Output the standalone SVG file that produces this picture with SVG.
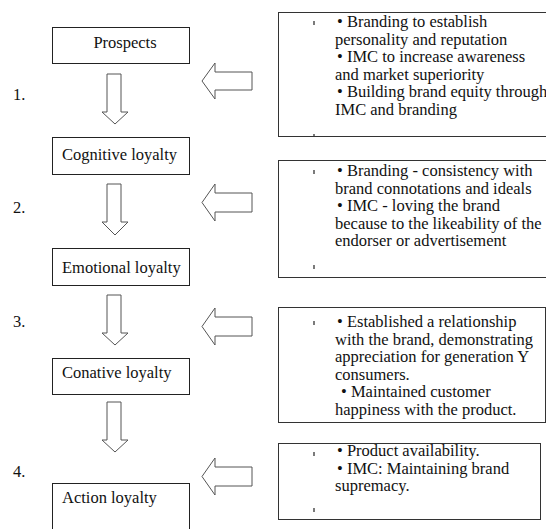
<svg xmlns="http://www.w3.org/2000/svg" width="546" height="529" viewBox="0 0 546 529">
<style>
text{font-family:"Liberation Serif","Times New Roman",serif;font-size:16.5px;fill:#111}
.box{fill:#fff;stroke:#222;stroke-width:1}
.rbox{fill:#fff;stroke:#333;stroke-width:1}
.arr{fill:#fff;stroke:#555;stroke-width:1;stroke-linejoin:miter}
.tick{stroke:#333;stroke-width:1.3}
</style>
<rect width="546" height="529" fill="#fff"/>
<g id="connectors">
<polygon class="arr" points="107,74 121,74 121,112 128,112 115,124 102,112 107,112"/>
<polygon class="arr" points="107,184 121,184 121,222 128,222 115,235 102,222 107,222"/>
<polygon class="arr" points="107,295 121,295 121,333 128,333 115,345 102,333 107,333"/>
<polygon class="arr" points="107,402 121,402 121,440 128,440 115,452 102,440 107,440"/>
<polygon class="arr" points="252,72 215,72 215,63 202,81 215,99 215,90 252,90"/>
<polygon class="arr" points="252,193 215,193 215,184 202,202.5 215,221 215,212 252,212"/>
<polygon class="arr" points="252,317 215,317 215,308 202,326.5 215,345 215,336 252,336"/>
<polygon class="arr" points="252,467 215,467 215,458 202,476.5 215,495 215,486 252,486"/>
</g>
<g id="labels">
<text x="13" y="100">1.</text>
<text x="13" y="213">2.</text>
<text x="13" y="327">3.</text>
<text x="13" y="477">4.</text>
</g>
<g id="prospects">
<rect class="box" x="52.5" y="27.5" width="137" height="36"/>
<text x="125" y="48" text-anchor="middle">Prospects</text>
</g>
<g id="cognitive">
<rect class="box" x="52.5" y="137.5" width="137" height="37"/>
<text x="62" y="160">Cognitive loyalty</text>
</g>
<g id="emotional">
<rect class="box" x="52.5" y="248.5" width="137" height="37"/>
<text x="62" y="273">Emotional loyalty</text>
</g>
<g id="conative">
<rect class="box" x="52.5" y="358.5" width="137" height="36"/>
<text x="62" y="378">Conative loyalty</text>
</g>
<g id="action">
<rect class="box" x="52.5" y="483.5" width="137" height="60"/>
<text x="62" y="503">Action loyalty</text>
</g>
<g id="note1">
<rect class="rbox" x="278.5" y="12.5" width="280" height="124"/>
<line class="tick" x1="314" y1="21" x2="314" y2="25"/>
<line class="tick" x1="314" y1="134" x2="314" y2="136"/>
<text x="337" y="27">• Branding to establish</text>
<text x="335" y="44.5">personality and reputation</text>
<text x="337" y="62">• IMC to increase awareness</text>
<text x="335" y="79.5">and market superiority</text>
<text x="337" y="97">• Building brand equity through</text>
<text x="335" y="114.5">IMC and branding</text>
</g>
<g id="note2">
<rect class="rbox" x="278.5" y="160.5" width="280" height="117"/>
<line class="tick" x1="314" y1="170" x2="314" y2="174"/>
<line class="tick" x1="314" y1="265" x2="314" y2="269"/>
<text x="337" y="176">• Branding - consistency with</text>
<text x="335" y="193.5">brand connotations and ideals</text>
<text x="337" y="211">• IMC - loving the brand</text>
<text x="335" y="228.5">because to the likeability of the</text>
<text x="335" y="246">endorser or advertisement</text>
</g>
<g id="note3">
<rect class="rbox" x="278.5" y="307.5" width="267" height="115"/>
<line class="tick" x1="314" y1="321" x2="314" y2="325"/>
<text x="337" y="327">• Established a relationship</text>
<text x="335" y="344.5">with the brand, demonstrating</text>
<text x="335" y="362">appreciation for generation Y</text>
<text x="335" y="379.5">consumers.</text>
<text x="341" y="397">• Maintained customer</text>
<text x="335" y="414.5">happiness with the product.</text>
</g>
<g id="note4">
<rect class="rbox" x="278.5" y="443.5" width="262" height="76"/>
<line class="tick" x1="314" y1="452" x2="314" y2="456"/>
<line class="tick" x1="314" y1="508" x2="314" y2="512"/>
<text x="337" y="456">• Product availability.</text>
<text x="337" y="473.5">• IMC: Maintaining brand</text>
<text x="335" y="491">supremacy.</text>
</g>
</svg>
